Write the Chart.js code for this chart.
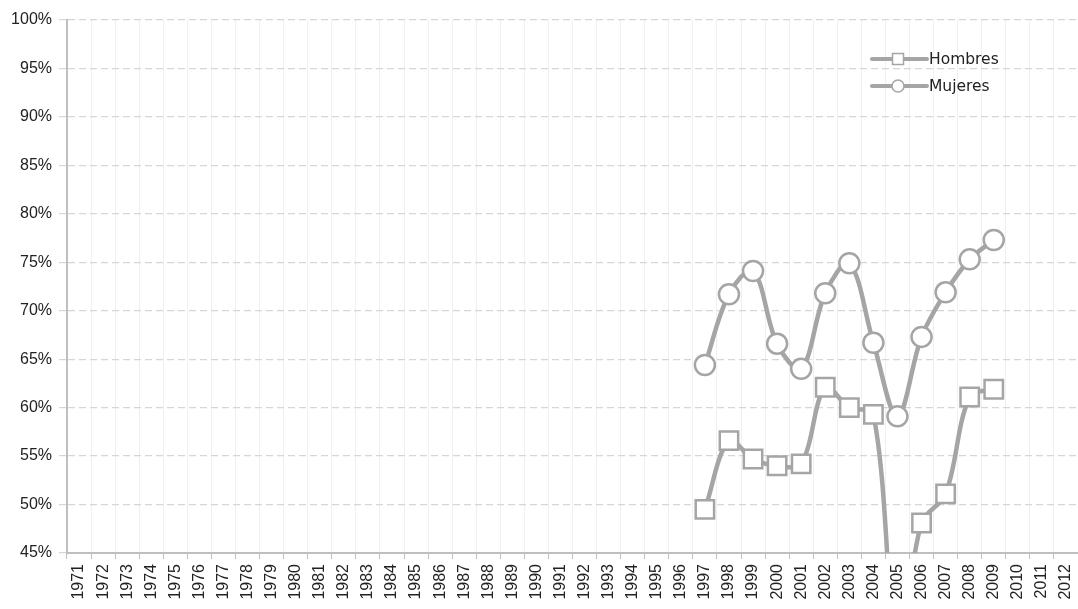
<!DOCTYPE html>
<html><head><meta charset="utf-8">
<script src="https://cdn.jsdelivr.net/npm/chart.js@4.4.1/dist/chart.umd.min.js"></script>
<style>html,body{margin:0;padding:0;background:#fff}#wrap{width:1078px;height:609px}</style>
</head><body><div id="wrap"><canvas id="c" width="1078" height="609"></canvas></div>
<script>
const years = [];
for (let y = 1971; y <= 2012; y++) years.push(String(y));
const seriesNames = ['Hombres', 'Mujeres'];
// values in %, 1971..2012 (null = no data)
const hombres = [null,null,null,null,null,null,null,null,null,null,null,null,null,null,null,null,null,null,null,null,null,null,null,null,null,null,
  49.5,56.6,54.7,54.0,54.2,62.1,60.0,59.3,35.0,48.1,51.1,61.1,61.9,null,null,null];
const mujeres = [null,null,null,null,null,null,null,null,null,null,null,null,null,null,null,null,null,null,null,null,null,null,null,null,null,null,
  64.4,71.7,74.1,66.6,64.0,71.8,74.9,66.7,59.1,67.3,71.9,75.3,77.3,null,null,null];
const yTicks = [45,50,55,60,65,70,75,80,85,90,95,100];

const GRAY = '#a5a5a5';
const TICKFONT = "'Liberation Sans', Arial, sans-serif";
const LEGFONT = "'DejaVu Sans', sans-serif";

const legendPlugin = {
  id: 'customLegend',
  afterDraw(chart) {
    const ctx = chart.ctx;
    const items = [{name: seriesNames[0], style: 'rect', y: 59}, {name: seriesNames[1], style: 'circle', y: 86}];
    ctx.save();
    items.forEach(it => {
      const x0 = 872, x1 = 927, xm = 898;
      ctx.strokeStyle = GRAY; ctx.lineWidth = 4; ctx.lineCap = 'round';
      ctx.beginPath(); ctx.moveTo(x0, it.y); ctx.lineTo(x1, it.y); ctx.stroke();
      ctx.lineWidth = 1.5; ctx.fillStyle = '#fff';
      if (it.style === 'rect') {
        ctx.fillRect(xm - 5.5, it.y - 5.5, 11, 11); ctx.strokeRect(xm - 5.5, it.y - 5.5, 11, 11);
      } else {
        ctx.beginPath(); ctx.arc(xm, it.y, 6, 0, Math.PI * 2); ctx.fill(); ctx.stroke();
      }
      ctx.fillStyle = '#222'; ctx.font = '15.5px ' + LEGFONT; ctx.textBaseline = 'middle'; ctx.textAlign = 'left';
      ctx.fillText(it.name, 929, it.y + 1);
    });
    ctx.restore();
  }
};

new Chart(document.getElementById('c'), {
  type: 'line',
  data: {
    labels: years,
    datasets: [
      {label: seriesNames[0], data: hombres, borderColor: GRAY, borderWidth: 4.5, tension: 0.35,
       pointStyle: 'rect', pointRadius: 13, pointBorderWidth: 2.5, pointBackgroundColor: '#fff', pointBorderColor: GRAY, spanGaps: false},
      {label: seriesNames[1], data: mujeres, borderColor: GRAY, borderWidth: 4.5, tension: 0.35,
       pointStyle: 'circle', pointRadius: 10, pointBorderWidth: 2.5, pointBackgroundColor: '#fff', pointBorderColor: GRAY, spanGaps: false}
    ]
  },
  options: {
    responsive: false, animation: false,
    layout: {autoPadding: false, padding: {top: 20, right: 0, left: 0, bottom: 0}},
    plugins: {legend: {display: false}, tooltip: {enabled: false}},
    scales: {
      x: {
        offset: true,
        grid: {offset: true, color: '#f0f0f0', lineWidth: 1, drawTicks: true, tickLength: 6, tickColor: '#bfbfbf'},
        border: {color: '#bfbfbf', width: 2},
        ticks: {maxRotation: 90, minRotation: 90, autoSkip: false, color: '#222', font: {family: TICKFONT, size: 16}, padding: 5},
        afterFit(s) { s.height = 56; s.paddingLeft = 0; s.paddingRight = 0; }
      },
      y: {
        min: 45, max: 100,
        afterBuildTicks(s) { s.ticks = yTicks.map(v => ({value: v})); },
        grid: {color: '#d6d6d6', lineWidth: 1.2, tickLength: 8, tickColor: '#d6d6d6', drawTicks: true},
        border: {color: '#bfbfbf', width: 2, dash: [7, 4], display: true},
        ticks: {color: '#222', font: {family: TICKFONT, size: 16}, padding: 7, callback: v => v + '%'},
        afterFit(s) { s.width = 67; s.paddingTop = 0; s.paddingBottom = 0; }
      }
    }
  },
  plugins: [legendPlugin]
});
</script></body></html>
